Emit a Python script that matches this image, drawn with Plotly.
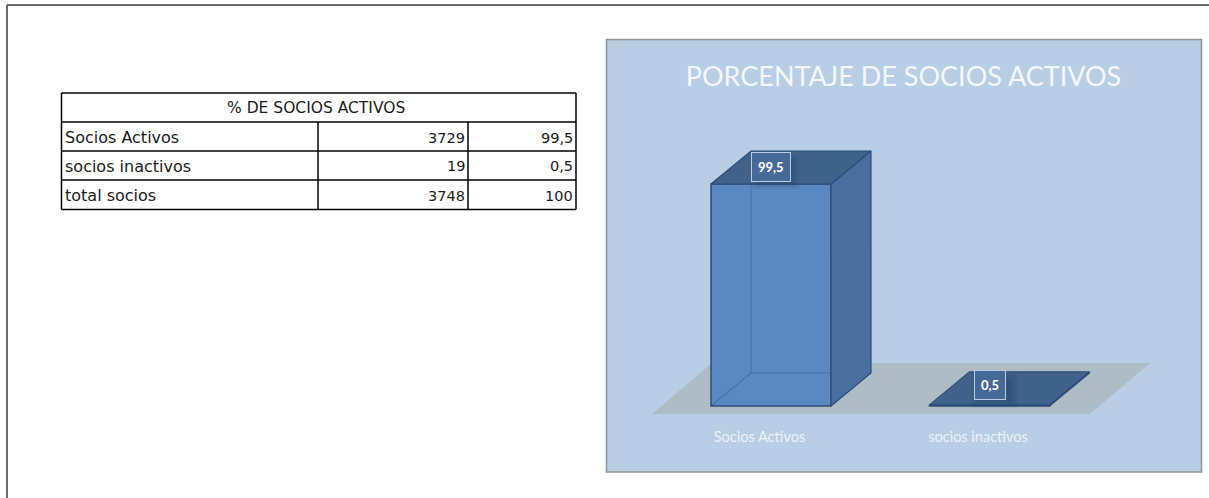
import plotly.graph_objects as go

# ---- data ----
categories = ["Socios Activos", "socios inactivos"]
percentages = [99.5, 0.5]
value_labels = ["99,5", "0,5"]
table_title = "% DE SOCIOS ACTIVOS"
table_names = ["Socios Activos", "socios inactivos", "total socios"]
table_counts = ["3729", "19", "3748"]
table_pcts = ["99,5", "0,5", "100"]
chart_title = "PORCENTAJE DE SOCIOS ACTIVOS"

# ---- layout helpers ----
W, H = 1209, 498
px = lambda v: v / W
py = lambda v: 1 - v / H

# scale: pixels per category step / per percentage unit
STEP = 218.5
UNIT = 2.231
X0_PX = 759.5   # pixel of category 0 (label centre)
Y0_PX = 406.0   # pixel of value 0
PANEL = (606.5, 1201.5, 39.5, 472.0)

BAR_OFFSET = (711 - X0_PX) / STEP
BAR_WIDTH = 120 / STEP
DX = 40 / STEP
DY = 33 / UNIT

FRONT = "#5A88C0"
SIDE = "#4A6F9F"
TOP = "#42628C"
EDGE = "#2C4C7A"
INNER = "rgba(44,76,122,0.35)"

fig = go.Figure()

# front of the boxes
fig.add_trace(go.Bar(
    x=list(range(len(categories))), y=percentages,
    offset=BAR_OFFSET, width=BAR_WIDTH,
    marker=dict(color=FRONT, line=dict(color=EDGE, width=1.5)),
    hoverinfo="skip", showlegend=False,
))

def poly(xs, ys, fill, line=EDGE, width=1.2):
    fig.add_trace(go.Scatter(
        x=xs + xs[:1], y=ys + ys[:1], mode="lines", fill="toself",
        fillcolor=fill, line=dict(color=line, width=width),
        hoverinfo="skip", showlegend=False,
    ))

def seg(xs, ys):
    fig.add_trace(go.Scatter(
        x=xs, y=ys, mode="lines", line=dict(color=INNER, width=1.2),
        hoverinfo="skip", showlegend=False,
    ))

for i, v in enumerate(percentages):
    l = i + BAR_OFFSET
    r = l + BAR_WIDTH
    # hidden back edges seen through the translucent box
    if v > 5:
        seg([l, l + DX, l + DX], [0, DY, v + DY])
        seg([l + DX, r + DX], [DY, DY])
    # right side and top
    poly([r, r + DX, r + DX, r], [0, DY, v + DY, v], SIDE)
    poly([l, l + DX, r + DX, r], [v, v + DY, v + DY, v], TOP)

# soft shadow under the value labels, then the labels
label_shift = [17.5, 20]
for i, v in enumerate(percentages):
    cx = i + BAR_OFFSET + BAR_WIDTH / 2
    cy = v + label_shift[i] / UNIT
    for k in range(5):
        hw = (24 - 2 * k) / STEP
        hh = (18 - 2 * k) / UNIT
        sx = cx + 5 / STEP
        sy = cy - 5 / UNIT
        xs = [sx - hw, sx + hw, sx + hw, sx - hw, sx - hw]
        ys = [sy - hh, sy - hh, sy + hh, sy + hh, sy - hh]
        fig.add_trace(go.Scatter(
            x=xs, y=ys, mode="none", fill="toself", fillcolor="rgba(30,50,85,0.07)",
            hoverinfo="skip", showlegend=False,
        ))
    fig.add_annotation(
        x=cx, y=v, xref="x", yref="y",
        yshift=label_shift[i], text=f"<b>{value_labels[i]}</b>", showarrow=False,
        font=dict(family="Lato", size=13, color="white"),
        bgcolor="#466A97", bordercolor="#B9CDE5", borderwidth=1, borderpad=6,
    )

# floor
fl = (652 - X0_PX) / STEP
fr = (1090 - X0_PX) / STEP
fb = (Y0_PX - 414) / UNIT
ft = (Y0_PX - 363) / UNIT
fs = 60 / STEP
shapes = [dict(
    type="path", xref="x", yref="y", layer="below", line=dict(width=0),
    fillcolor="#AEBCC6",
    path=f"M {fl} {fb} L {fr} {fb} L {fr + fs} {ft} L {fl + fs} {ft} Z",
)]

# panel border and page frame
shapes.append(dict(type="rect", xref="paper", yref="paper",
                   x0=px(PANEL[0]), x1=px(PANEL[1]), y0=py(PANEL[3]), y1=py(PANEL[2]),
                   line=dict(color="#8E9296", width=1.5), layer="above"))
frame = "#3A3A3A"
shapes.append(dict(type="line", xref="paper", yref="paper", x0=px(7), x1=1, y0=py(5), y1=py(5),
                   line=dict(color=frame, width=1.5)))
shapes.append(dict(type="line", xref="paper", yref="paper", x0=px(7), x1=px(7), y0=py(5), y1=0,
                   line=dict(color=frame, width=1.5)))

# table grid
T_L, T_R, C1, C2 = 61.5, 576, 318, 468
ROWS = [93, 122, 151, 180, 209.5]
black = dict(color="black", width=1.5)
for y in ROWS:
    shapes.append(dict(type="line", xref="paper", yref="paper", x0=px(T_L), x1=px(T_R), y0=py(y), y1=py(y), line=black))
for x, top in [(T_L, ROWS[0]), (T_R, ROWS[0]), (C1, ROWS[1]), (C2, ROWS[1])]:
    shapes.append(dict(type="line", xref="paper", yref="paper", x0=px(x), x1=px(x), y0=py(top), y1=py(ROWS[-1]), line=black))

# table text
NUM_FONT = dict(family="DejaVu Sans", size=14.5, color="#1A1A1A")
NAME_FONT = dict(family="DejaVu Sans", size=16, color="#1A1A1A")
HEAD_FONT = dict(family="DejaVu Sans", size=15.5, color="#1A1A1A")
def cell(x, y, text, anchor, font):
    fig.add_annotation(xref="paper", yref="paper", x=px(x), y=py(y), text=text, showarrow=False,
                       xanchor=anchor, yanchor="middle", font=font)
cell(316.5, 108, table_title, "center", HEAD_FONT)
for i in range(3):
    yc = (ROWS[i + 1] + ROWS[i + 2]) / 2 + 1
    cell(63, yc, table_names[i], "left", NAME_FONT)
    cell(467, yc, table_counts[i], "right", NUM_FONT)
    cell(575, yc, table_pcts[i], "right", NUM_FONT)

fig.update_layout(
    width=W, height=H, margin=dict(l=0, r=0, t=0, b=0),
    paper_bgcolor="white", plot_bgcolor="#B9CDE5",
    shapes=shapes, showlegend=False,
    title=dict(text=chart_title, x=903.5 / W, y=py(77), xref="paper", yref="paper",
               xanchor="center", yanchor="middle",
               font=dict(family="Lato", size=27, color="#F4F7FB")),
    xaxis=dict(domain=[px(PANEL[0]), px(PANEL[1])],
               range=[(PANEL[0] - X0_PX) / STEP, (PANEL[1] - X0_PX) / STEP],
               tickvals=list(range(len(categories))), ticktext=categories,
               showgrid=False, zeroline=False, showline=False, ticks="",
               anchor="free", position=py(426),
               tickfont=dict(family="Lato", size=14.5, color="#EDF2F8")),
    yaxis=dict(domain=[py(PANEL[3]), py(PANEL[2])],
               range=[(Y0_PX - PANEL[3]) / UNIT, (Y0_PX - PANEL[2]) / UNIT],
               visible=False),
)

fig.write_html("out.html", config={"displayModeBar": False},
               post_script="document.body.style.margin='0';")
